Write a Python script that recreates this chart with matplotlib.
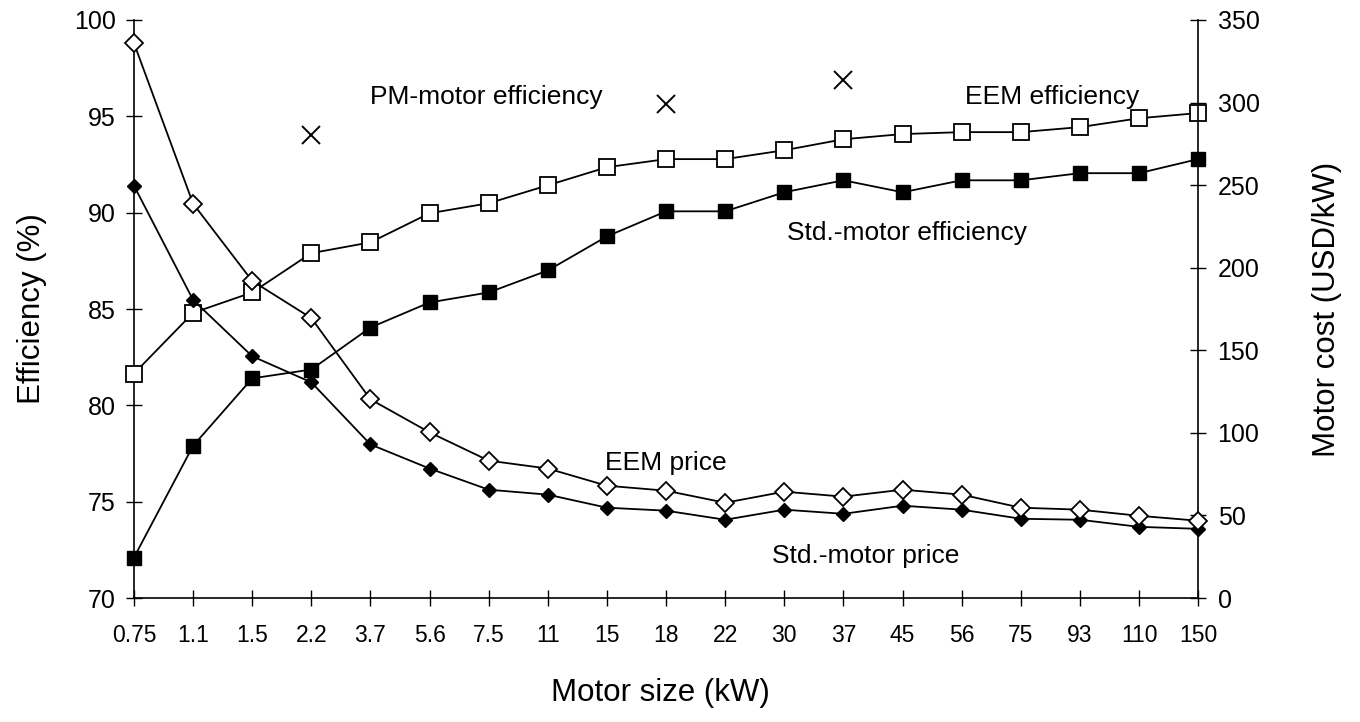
import matplotlib
matplotlib.use('Agg')
import matplotlib.pyplot as plt

plt.rcParams['font.family'] = ['Liberation Sans', 'DejaVu Sans']

# motor sizes (kW) used as categories
sizes = ['0.75', '1.1', '1.5', '2.2', '3.7', '5.6', '7.5', '11', '15', '18',
         '22', '30', '37', '45', '56', '75', '93', '110', '150']

# efficiency (%) - left axis
eem_eff = [81.65, 84.8, 85.86, 87.9, 88.46, 89.97, 90.49, 91.42, 92.36, 92.78,
           92.78, 93.24, 93.81, 94.08, 94.18, 94.18, 94.44, 94.9, 95.17]
std_eff = [72.1, 77.9, 81.4, 81.86, 84.04, 85.34, 85.86, 87.0, 88.77, 90.07,
           90.07, 91.06, 91.68, 91.06, 91.68, 91.68, 92.05, 92.05, 92.78]
pm_sizes = ['2.2', '18', '37']
pm_eff = [94.02, 95.64, 96.88]

# motor cost (USD/kW) - right axis
eem_price = [336, 238.8, 192, 169.5, 120.3, 100.3, 83.2, 78.4, 68, 65,
             57.7, 64.4, 61.4, 65.6, 62.6, 54.7, 53.5, 49.8, 46.8]
std_price = [249.7, 180.5, 146.4, 130.6, 93, 78.4, 65.6, 62.6, 54.7, 52.9,
             47.4, 53.5, 51, 55.9, 53.5, 48, 47.4, 43.1, 41.9]

x = list(range(len(sizes)))
pm_x = [sizes.index(s) for s in pm_sizes]

fig = plt.figure(figsize=(13.6, 7.22), dpi=100)
ax = fig.add_axes([0.0985, 0.1717, 0.7825, 0.8006])
ax2 = ax.twinx()

lw = 1.3
ax.plot(x, eem_eff, color='black', lw=lw, marker='s', ms=11.5, mfc='white',
        mec='black', mew=1.3, clip_on=False, zorder=5)
ax.plot(x, std_eff, color='black', lw=lw, marker='s', ms=10.5, mfc='black',
        mec='black', clip_on=False, zorder=5)
ax.plot(pm_x, pm_eff, ls='none', marker='x', ms=13, mew=1.4, color='black',
        clip_on=False, zorder=5)

ax2.plot(x, eem_price, color='black', lw=lw, marker='D', ms=9, mfc='white',
         mec='black', mew=1.3, clip_on=False, zorder=5)
ax2.plot(x, std_price, color='black', lw=lw, marker='D', ms=6.8, mfc='black',
         mec='black', clip_on=False, zorder=4)

ax.set_xlim(0, 18)
ax.set_ylim(70, 100)
ax2.set_ylim(0, 350)
ax.set_xticks(x)
ax.set_xticklabels(sizes)
ax.set_yticks(range(70, 101, 5))
ax2.set_yticks(range(0, 351, 50))

for a in (ax, ax2):
    a.spines['top'].set_visible(False)
    for s in a.spines.values():
        s.set_linewidth(1.2)
ax2.spines['bottom'].set_visible(False)
ax2.spines['left'].set_visible(False)
ax.spines['right'].set_visible(False)

ax.tick_params(axis='y', direction='inout', length=12, width=1, pad=7, labelsize=18)
ax2.tick_params(axis='y', direction='inout', length=12, width=1, pad=8, labelsize=18)
ax.tick_params(axis='x', direction='inout', length=12, width=1, pad=13, labelsize=16.5)

ax.set_xlabel('Motor size (kW)', fontsize=22.5)
ax.xaxis.set_label_coords(0.495, -0.138)
ax.set_ylabel('Efficiency (%)', fontsize=22.5)
ax.yaxis.set_label_coords(-0.082, 0.5)
ax2.set_ylabel('Motor cost (USD/kW)', fontsize=22.5)
ax2.yaxis.set_label_coords(1.107, 0.5)

fs = 19
ax.text(3.99, 96.0, 'PM-motor efficiency', fontsize=fs, ha='left', va='center')
ax.text(14.06, 96.0, 'EEM efficiency', fontsize=fs, ha='left', va='center')
ax.text(11.05, 88.95, 'Std.-motor efficiency', fontsize=fs, ha='left', va='center')
ax.text(7.97, 77.02, 'EEM price', fontsize=fs, ha='left', va='center')
ax.text(10.8, 72.18, 'Std.-motor price', fontsize=fs, ha='left', va='center')

fig.savefig('out.png', dpi=100)
